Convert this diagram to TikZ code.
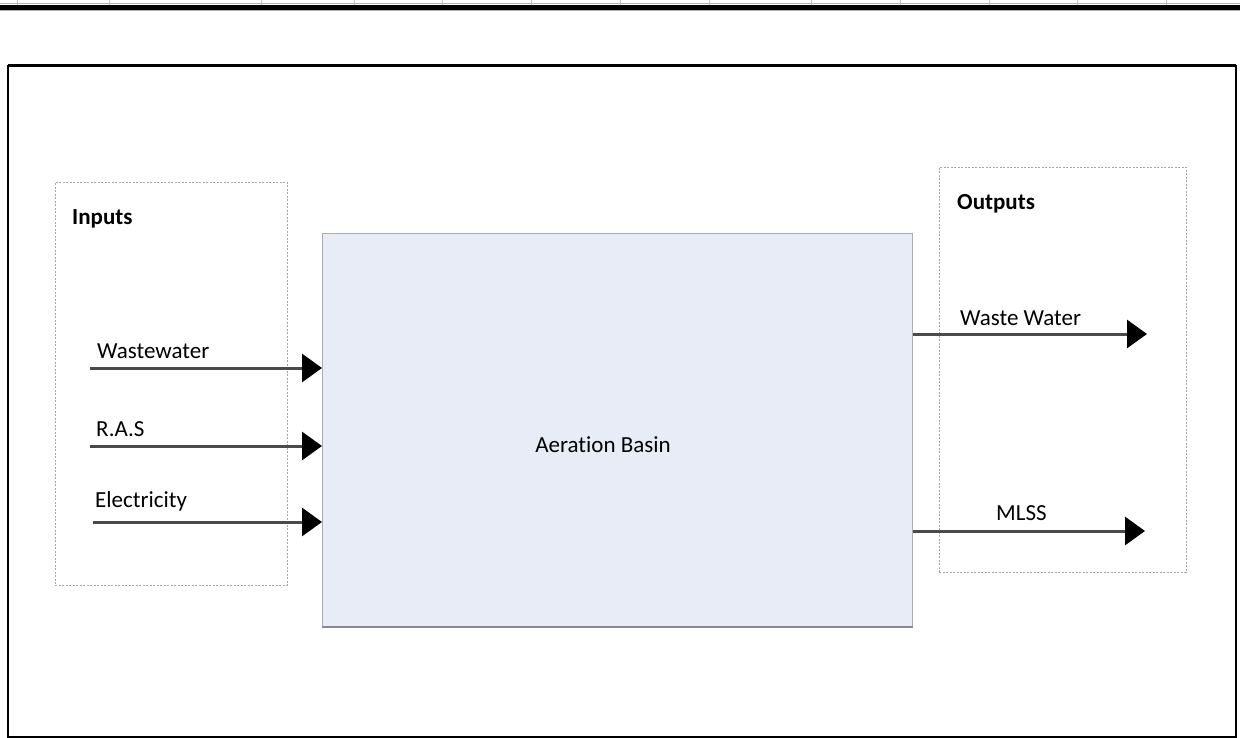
\documentclass[tikz,border=0pt]{standalone}
\usepackage{fontspec}
\setmainfont[Ligatures={NoCommon}]{Carlito}
\usetikzlibrary{arrows.meta}
\definecolor{basinfill}{HTML}{E8ECF6}
\definecolor{basinedge}{HTML}{A9ADB6}
\definecolor{flowline}{HTML}{4A4A4A}
\tikzset{
  groupbox/.style={draw=gray!70, dash pattern=on 2pt off 1.5pt, line width=0.8pt},
  flow/.style={draw=flowline, line width=3pt, -{Triangle[length=20pt,width=28pt,fill=black,color=black]}},
  lbl/.style={anchor=base west, inner sep=0pt, font=\fontsize{23}{28}\selectfont},
  head/.style={lbl, font=\fontsize{23}{28}\selectfont\bfseries},
}
\begin{document}
\begin{tikzpicture}[x=1pt, y=-1pt]
\useasboundingbox (0,0) rectangle (1240,738);
% table rule along the top edge
\foreach \x in {17,109,261,354,442,531,620,709,811,900,989,1077,1166}
  \draw[gray!50, line width=0.8pt] (\x,0) -- (\x,5);
\draw[gray!60, line width=1pt] (0,4) -- (1240,4);
\fill[black] (0,5) rectangle (1240,10);
\draw[gray!60, line width=1pt] (0,11) -- (1240,11);
% outer frame
\draw[black, line width=1.6pt] (8,737) -- (8,66) -- (1236,66) -- (1236,737) -- cycle;
\draw[black, line width=3pt] (8,66) -- (1236,66);
% input and output groups
\node[groupbox, minimum width=232pt, minimum height=403pt, anchor=north west] (inbox) at (55,182) {};
\node[groupbox, minimum width=247pt, minimum height=405pt, anchor=north west] (outbox) at (939,167) {};
\node[head] (inputs) at (72,225) {Inputs};
\node[head] (outputs) at (957,210) {Outputs};
% aeration basin
\node[draw=basinedge, fill=basinfill, line width=1.2pt, minimum width=590pt, minimum height=393pt, anchor=north west] (basin) at (322,233) {};
\draw[basinedge!80!black, line width=1.5pt] (basin.south west) -- (basin.south east);
\node[lbl, anchor=base] (basinlbl) at (603,452) {Aeration Basin};
% inflows
\coordinate (ww) at (90,368);
\coordinate (ras) at (90,446);
\coordinate (el) at (93,522);
\draw[flow] (ww) -- (ww -| basin.west);
\draw[flow] (ras) -- (ras -| basin.west);
\draw[flow] (el) -- (el -| basin.west);
\node[lbl] (wwlbl) at (97,358) {Wastewater};
\node[lbl] (raslbl) at (96,436) {R.A.S};
\node[lbl] (ellbl) at (95,507) {Electricity};
% outflows
\coordinate (wwout) at (1147,334);
\coordinate (mlss) at (1145,531);
\draw[flow] (wwout -| basin.east) -- (wwout);
\draw[flow] (mlss -| basin.east) -- (mlss);
\node[lbl] (wwoutlbl) at (960,325) {Waste Water};
\node[lbl] (mlsslbl) at (996,520) {MLSS};
\end{tikzpicture}
\end{document}
